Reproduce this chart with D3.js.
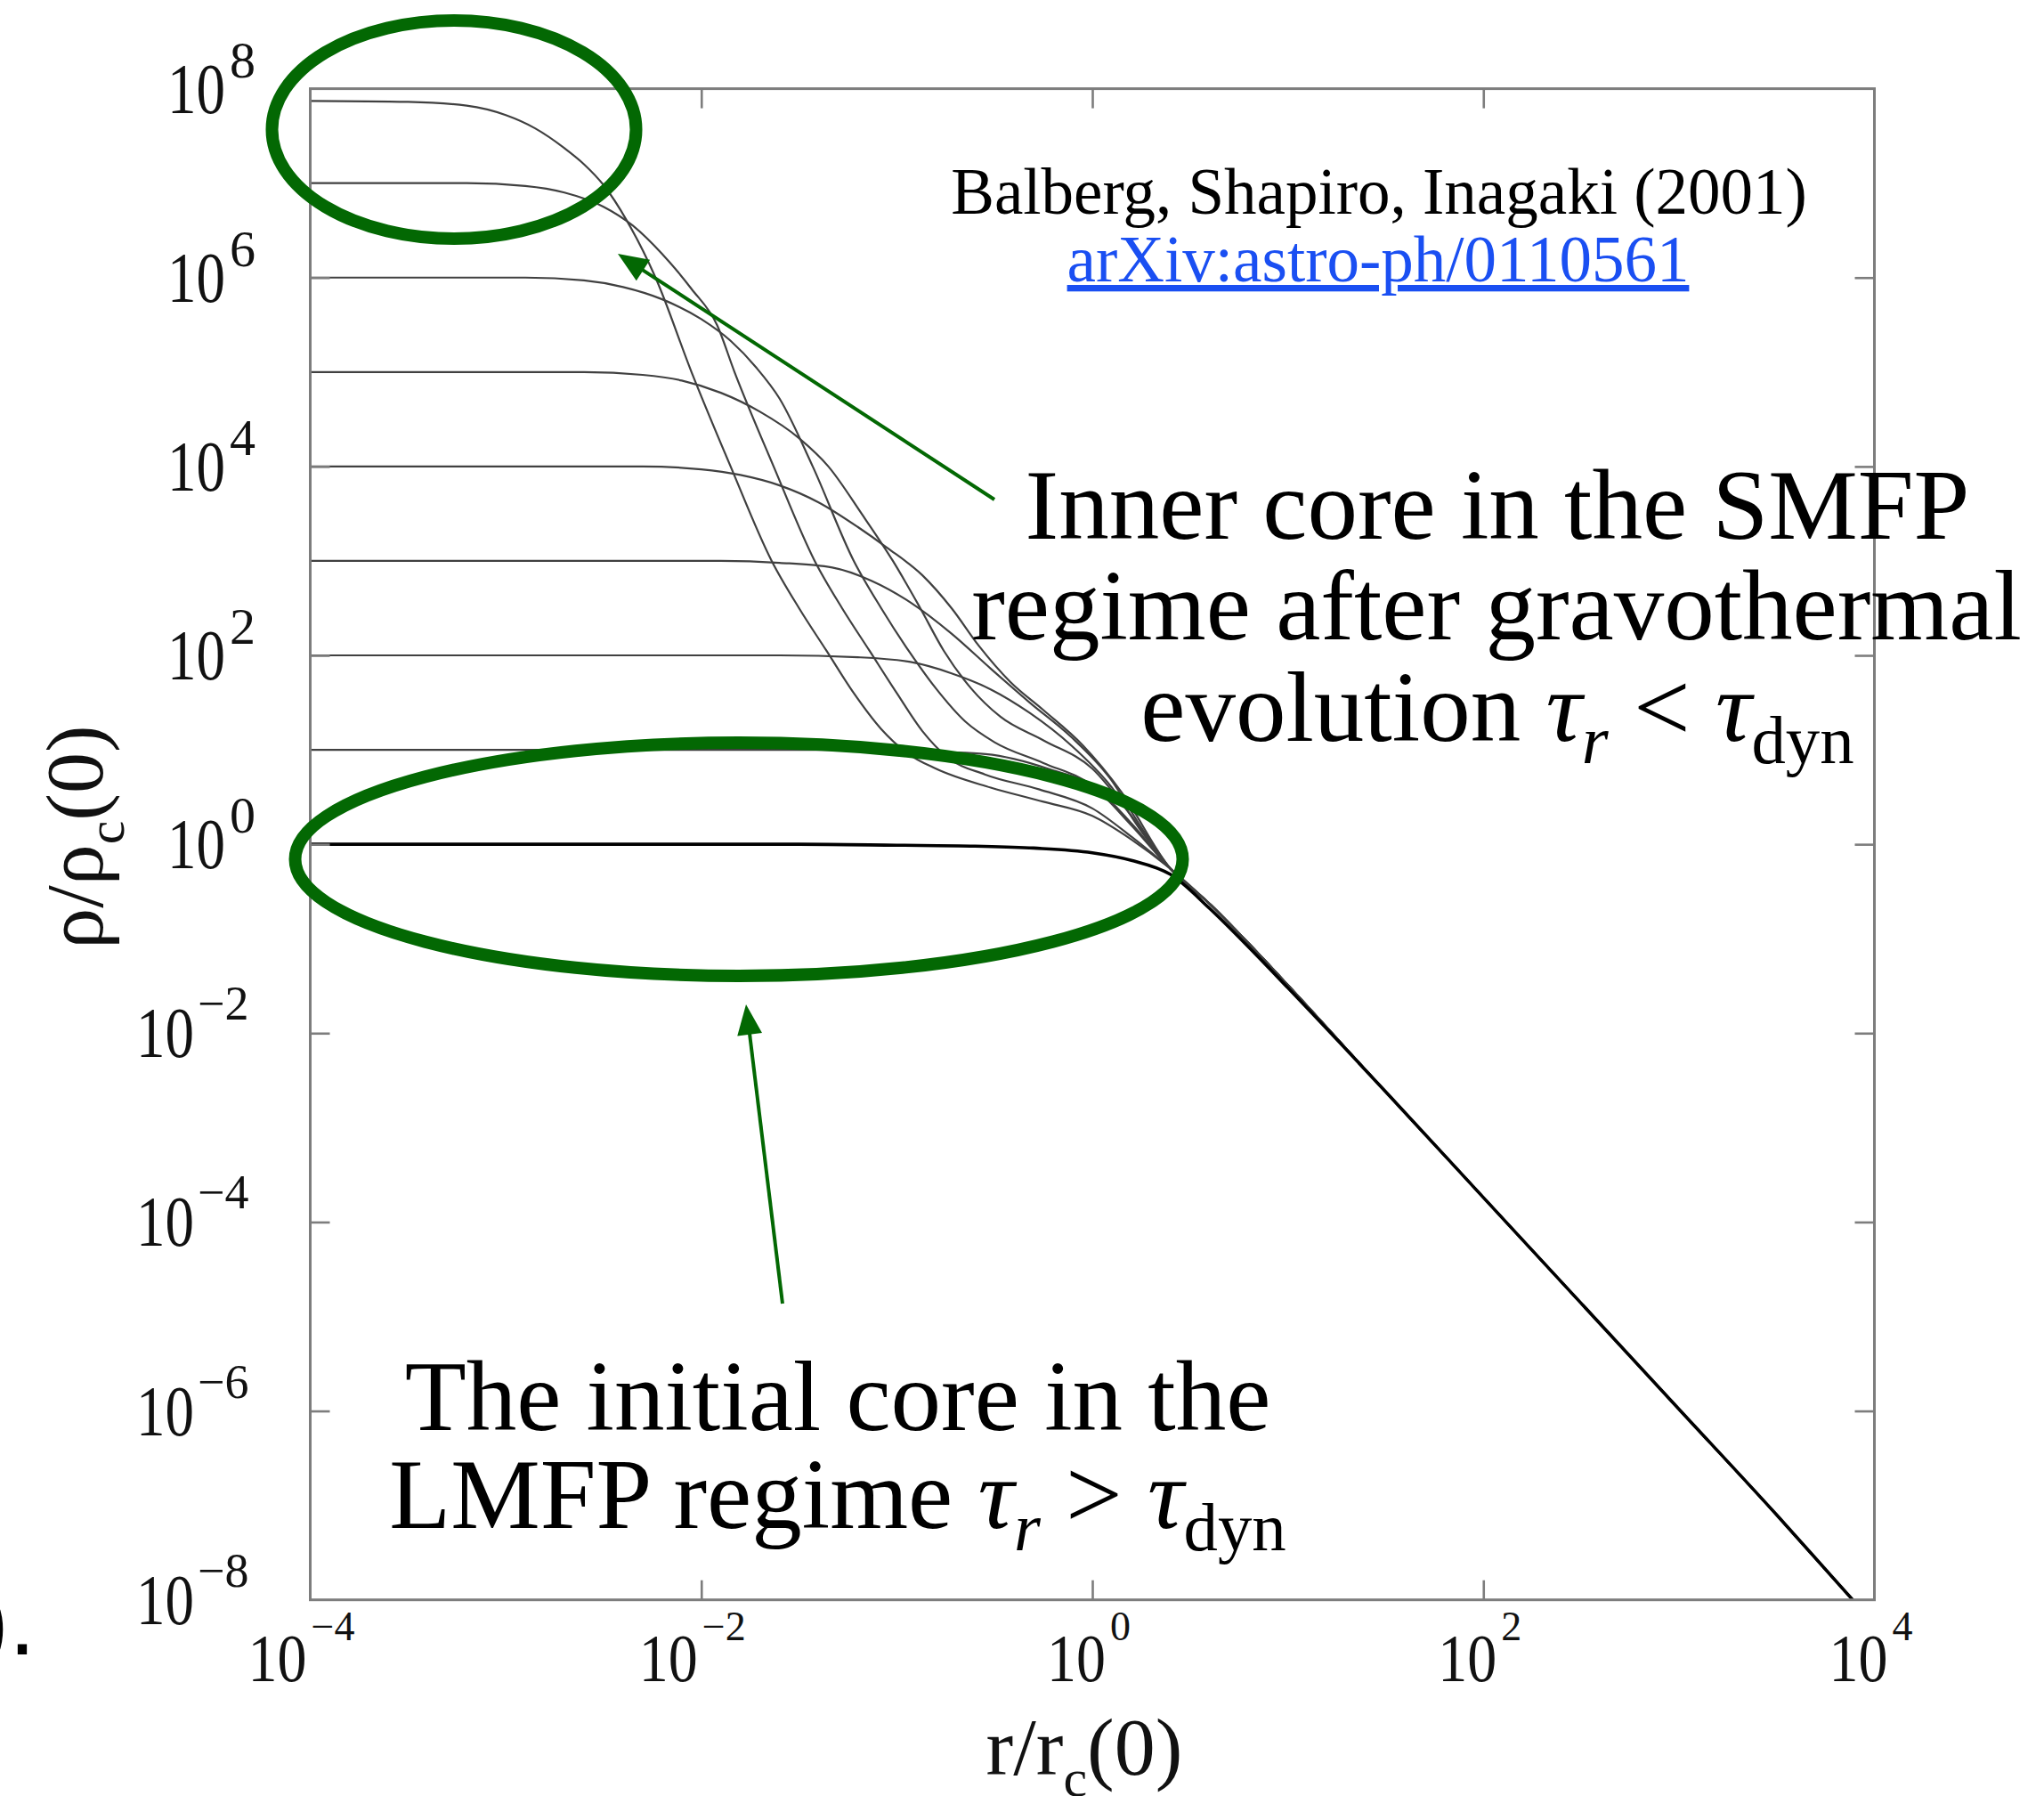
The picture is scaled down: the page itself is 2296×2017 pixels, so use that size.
<!DOCTYPE html>
<html><head><meta charset="utf-8">
<script src="https://cdn.jsdelivr.net/npm/d3@7"></script>
<style>html,body{margin:0;padding:0;background:#fff;}svg{display:block;}</style>
</head><body>
<svg id="chart" width="2296" height="2017"></svg>
<script>
// ---------- data (exponents: log10 r/rc(0), log10 rho/rhoc(0)) ----------
const xTickExps = [-4, -2, 0, 2, 4];
const yTickExps = [-8, -6, -4, -2, 0, 2, 4, 6, 8];
const xInnerTickExps = [-2, 0, 2];
const yInnerTickExps = [-6, -4, -2, 0, 2, 4, 6];

const outerTail = [[1.5,-2.62],[2,-3.74],[2.5,-4.86],[3,-5.98],[3.5,-7.1],[3.889,-8]];
const evolvedJoin = [[0.6,-0.63],[0.8,-1.05],[1.0,-1.49]];

const initialProfile = [[-4,0],[-1.5,0],[-1,-0.01],[-0.6,-0.02],[-0.3,-0.04],[0,-0.09],[0.2,-0.17],[0.4,-0.32],[0.6,-0.68],[0.8,-1.09],[1.0,-1.52]];
const profileC1 = [[-4,1],[-1.4,1],[-1.0,0.99],[-0.75,0.975],[-0.546,0.955],[-0.227,0.8],[0.028,0.58],[0.2,0.22],[0.4,-0.26]];
const profileC2 = [[-4,2],[-1.6,2],[-1.2,1.98],[-0.93,1.93],[-0.72,1.81],[-0.52,1.64],[-0.32,1.39],[-0.11,1.05],[0.1,0.6],[0.25,0.14],[0.4,-0.26]];
const profileC3 = [[-4,3],[-1.9,3],[-1.6,2.98],[-1.33,2.93],[-1.13,2.79],[-0.93,2.56],[-0.72,2.23],[-0.52,1.86],[-0.32,1.5],[-0.11,1.14],[0.09,0.7],[0.25,0.18],[0.4,-0.26]];
const profileC4 = [[-4,4],[-2.3,4],[-2.0,3.97],[-1.8,3.91],[-1.6,3.8],[-1.4,3.62],[-1.2,3.36],[-1.05,3.14],[-0.87,2.85],[-0.72,2.5],[-0.58,2.1],[-0.42,1.72],[-0.25,1.42],[-0.05,1.05],[0.15,0.55],[0.4,-0.26]];
const profileC5 = [[-4,5],[-2.6,5],[-2.3,4.97],[-2.1,4.91],[-1.9,4.78],[-1.7,4.58],[-1.5,4.3],[-1.35,4.0],[-1.18,3.5],[-1.02,3.0],[-0.88,2.5],[-0.76,2.05],[-0.62,1.65],[-0.47,1.35],[-0.25,1.1],[0,0.8],[0.2,0.3],[0.4,-0.26]];
const profileC6 = [[-4,6],[-2.9,6],[-2.6,5.97],[-2.4,5.9],[-2.2,5.77],[-2.0,5.56],[-1.85,5.33],[-1.72,5.05],[-1.6,4.72],[-1.43,4.0],[-1.22,3.0],[-1.08,2.5],[-0.94,2.05],[-0.8,1.65],[-0.65,1.3],[-0.5,1.08],[-0.25,0.86],[0,0.62],[0.2,0.2],[0.4,-0.26]];
const profileC7 = [[-4,7],[-3.2,7],[-2.9,6.97],[-2.7,6.9],[-2.5,6.75],[-2.35,6.55],[-2.2,6.25],[-2.05,5.88],[-1.92,5.5],[-1.83,5.0],[-1.63,4.0],[-1.42,3.0],[-1.28,2.5],[-1.14,2.05],[-1.0,1.6],[-0.87,1.2],[-0.74,0.92],[-0.55,0.74],[-0.27,0.58],[0,0.38],[0.2,0.08],[0.4,-0.26]];
const profileC8 = [[-4,7.87],[-3.5,7.86],[-3.2,7.82],[-3.0,7.72],[-2.85,7.58],[-2.7,7.37],[-2.6,7.2],[-2.5,6.98],[-2.38,6.6],[-2.234,6.0],[-2.05,5.0],[-1.85,4.0],[-1.64,3.0],[-1.5,2.5],[-1.36,2.05],[-1.22,1.6],[-1.08,1.22],[-0.95,0.97],[-0.8,0.8],[-0.52,0.6],[-0.25,0.45],[0,0.3],[0.2,0.05],[0.4,-0.26]];

const evolvedProfiles = [profileC1, profileC2, profileC3, profileC4, profileC5, profileC6, profileC7, profileC8];

// ---------- layout ----------
const svg = d3.select("#chart");
const X0 = 348.5, X1 = 2105.5, Y0 = 99.6, Y1 = 1796.7;
const x = d3.scaleLog().domain([1e-4, 1e4]).range([X0, X1]);
const y = d3.scaleLog().domain([1e-8, 1e8]).range([Y1, Y0]);
const serif = "'Liberation Serif','Times New Roman',serif";
const green = "#036803";
const frameColor = "#7d7d7d";

svg.append("defs").append("clipPath").attr("id","plotclip")
  .append("rect").attr("x",X0).attr("y",Y0).attr("width",X1-X0).attr("height",Y1-Y0);

// curves
const line = d3.line().x(d => x(Math.pow(10,d[0]))).y(d => y(Math.pow(10,d[1]))).curve(d3.curveMonotoneX);
const gCurves = svg.append("g").attr("clip-path","url(#plotclip)");
evolvedProfiles.forEach(p => {
  gCurves.append("path").attr("d", line(p.concat(evolvedJoin, outerTail)))
    .attr("fill","none").attr("stroke","#404040").attr("stroke-width",2.2);
});
gCurves.append("path").attr("d", line(initialProfile.concat(outerTail)))
  .attr("fill","none").attr("stroke","#000").attr("stroke-width",3.6);

// frame + ticks
svg.append("rect").attr("x",X0).attr("y",Y0).attr("width",X1-X0).attr("height",Y1-Y0)
  .attr("fill","none").attr("stroke",frameColor).attr("stroke-width",3);
const tickLen = 22;
const axB = d3.axisBottom(x).tickValues(xInnerTickExps.map(e=>Math.pow(10,e))).tickSize(-tickLen).tickFormat("");
const axT = d3.axisTop(x).tickValues(xInnerTickExps.map(e=>Math.pow(10,e))).tickSize(-tickLen).tickFormat("");
const axL = d3.axisLeft(y).tickValues(yInnerTickExps.map(e=>Math.pow(10,e))).tickSize(-tickLen).tickFormat("");
const axR = d3.axisRight(y).tickValues(yInnerTickExps.map(e=>Math.pow(10,e))).tickSize(-tickLen).tickFormat("");
[[axB,`translate(0,${Y1})`],[axT,`translate(0,${Y0})`],[axL,`translate(${X0},0)`],[axR,`translate(${X1},0)`]].forEach(([ax,tr])=>{
  const g = svg.append("g").attr("transform",tr).call(ax);
  g.select(".domain").remove();
  g.selectAll(".tick line").attr("stroke",frameColor).attr("stroke-width",2.6);
});

// tick labels: "10" condensed horizontally to a target width, exponent as separate text
function powLabel(xs10, base10, size10, w10, expStr, xsExp, baseExp, sizeExp) {
  const g = svg.append("g");
  const t = g.append("text").attr("x",0).attr("y",0).attr("font-family",serif).attr("font-size",size10)
    .attr("fill","#111").text("10");
  const natural = t.node().getComputedTextLength() || size10;
  t.attr("transform",`translate(${xs10},${base10}) scale(${w10/natural},1)`);
  g.append("text").attr("x",xsExp).attr("y",baseExp).attr("font-family",serif).attr("font-size",sizeExp)
    .attr("fill","#111").text(expStr);
}
xTickExps.forEach(e => {
  const neg = e < 0, tx = x(Math.pow(10,e));
  const end10 = tx + (neg ? -4 : 15);
  powLabel(end10 - 66, 1888, 77, 66, neg ? "\u2212"+Math.abs(e) : String(e), end10 + 5, 1842, 46);
});
yTickExps.forEach(e => {
  const neg = e < 0, ty = y(Math.pow(10,e));
  if (neg) powLabel(153, ty + 27, 80, 65, "\u2212"+Math.abs(e), 222, ty - 15, 54);
  else powLabel(188, ty + 27, 80, 65, String(e), 258, ty - 13, 58);
});

// axis titles
const xt = svg.append("text").attr("x",1218).attr("y",1993).attr("font-family",serif).attr("font-size",92)
  .attr("text-anchor","middle").attr("fill","#111");
xt.append("tspan").text("r/r");
xt.append("tspan").attr("font-size",60).attr("dy",24).text("c");
xt.append("tspan").attr("dy",-24).text("(0)");
const yt = svg.append("text").attr("transform","translate(115,940) rotate(-90)").attr("font-family",serif)
  .attr("font-size",92).attr("text-anchor","middle").attr("fill","#111");
yt.append("tspan").text("\u03C1/\u03C1");
yt.append("tspan").attr("font-size",60).attr("dy",24).text("c");
yt.append("tspan").attr("dy",-24).text("(0)");

// reference text
svg.append("text").attr("x",1549).attr("y",240).attr("font-family",serif).attr("font-size",73)
  .attr("text-anchor","middle").attr("fill","#000").text("Balberg, Shapiro, Inagaki (2001)");
svg.append("text").attr("x",1548).attr("y",316).attr("font-family",serif).attr("font-size",73)
  .attr("text-anchor","middle").attr("fill","#1a4ff2").attr("text-decoration","underline").text("arXiv:astro-ph/0110561");

// annotations
function richLine(xc, yb, size, parts) {
  const t = svg.append("text").attr("x",xc).attr("y",yb).attr("font-family",serif).attr("font-size",size)
    .attr("text-anchor","middle").attr("fill","#000");
  parts.forEach(p => {
    const s = t.append("tspan").text(p.t);
    if (p.i) s.attr("font-style","italic");
    if (p.sub) s.attr("font-size",size*0.68).attr("dy",size*0.22);
    if (p.up) s.attr("dy",-size*0.22);
  });
}
const big = 113;
richLine(1682, 605, big, [{t:"Inner core in the SMFP"}]);
richLine(1681, 718, big, [{t:"regime after gravothermal"}]);
richLine(1682, 832, big, [{t:"evolution "},{t:"\u03C4",i:1},{t:"r",i:1,sub:1},{t:" < ",up:1},{t:"\u03C4",i:1},{t:"dyn",sub:1}]);
richLine(941, 1606, big, [{t:"The initial core in the"}]);
richLine(941, 1716, big, [{t:"LMFP regime "},{t:"\u03C4",i:1},{t:"r",i:1,sub:1},{t:" > ",up:1},{t:"\u03C4",i:1},{t:"dyn",sub:1}]);

// slide remnant at the left edge
svg.append("text").attr("x",-26).attr("y",1858).attr("font-family","'Liberation Sans',Arial,sans-serif")
  .attr("font-size",108).attr("fill","#000").text(").");

// ellipses
svg.append("ellipse").attr("cx",510).attr("cy",145.5).attr("rx",204.5).attr("ry",122.5)
  .attr("fill","none").attr("stroke",green).attr("stroke-width",14);
svg.append("ellipse").attr("cx",830).attr("cy",965).attr("rx",498.5).attr("ry",131)
  .attr("fill","none").attr("stroke",green).attr("stroke-width",14);

// arrows
function arrow(x1,y1,x2,y2){
  const a = Math.atan2(y2-y1,x2-x1), L = 34, W = 14;
  const bx = x2 - L*Math.cos(a), by = y2 - L*Math.sin(a);
  svg.append("line").attr("x1",x1).attr("y1",y1).attr("x2",bx+6*Math.cos(a)).attr("y2",by+6*Math.sin(a))
    .attr("stroke",green).attr("stroke-width",4);
  const px = -Math.sin(a), py = Math.cos(a);
  svg.append("polygon").attr("points",`${x2},${y2} ${bx+W*px},${by+W*py} ${bx-W*px},${by-W*py}`).attr("fill",green);
}
arrow(1117,561,694,285);
arrow(879,1464,838,1128);
</script>
</body></html>
